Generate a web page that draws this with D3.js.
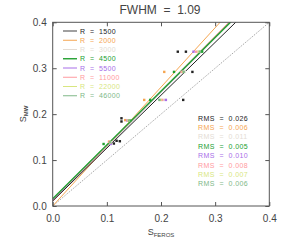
<!DOCTYPE html>
<html>
<head>
<meta charset="utf-8">
<script src="https://cdn.jsdelivr.net/npm/d3@7"></script>
<style>
  body { margin: 0; background: #fff; }
  text { font-family: "Liberation Sans", "DejaVu Sans", sans-serif; white-space: pre; }
</style>
</head>
<body>
<div id="chart"></div>
<script>
// resolutions, colours and fit lines (intercept, slope)
let resolutions = [1500, 2000, 3000, 4500, 5500, 11000, 22000, 46000];
let colors = ["#222222", "#f5a550", "#e4dcd4", "#22a030", "#a86ee8", "#ff9aa0", "#d8e680", "#80b888"];
let legendLineColors = ["#777777", "#f5a550", "#e4dcd4", "#22a030", "#a86ee8", "#ff9aa0", "#d8e680", "#80b888"];
let intercepts = [0.011, 0.000, 0.010, 0.016, 0.012, 0.010, 0.014, 0.015];
let slopes = [1.151, 1.294, 1.185, 1.170, 1.180, 1.200, 1.180, 1.175];
let rmsValues = ["0.026", "0.006", "0.011", "0.005", "0.010", "0.008", "0.007", "0.006"];

// points per resolution: [S_FEROS, S_MW]
let pts1500 = [[0.231,0.336],[0.246,0.336],[0.258,0.292],[0.241,0.231],[0.127,0.191],[0.127,0.184],[0.113,0.136],[0.118,0.142],[0.124,0.141]];
let pts2000 = [[0.206,0.292],[0.169,0.231],[0.134,0.187],[0.104,0.140]];
let pts3000 = [[0.268,0.336],[0.244,0.292],[0.205,0.231],[0.140,0.186],[0.108,0.139]];
let pts4500 = [[0.276,0.336],[0.224,0.292],[0.180,0.231],[0.143,0.186],[0.094,0.135]];
let pts5500 = [[0.260,0.336],[0.240,0.292],[0.209,0.231],[0.138,0.186],[0.107,0.135]];
let pts11000 = [[0.265,0.336],[0.238,0.292],[0.202,0.231],[0.139,0.186],[0.105,0.140]];
let pts22000 = [[0.270,0.336],[0.241,0.292],[0.199,0.231],[0.140,0.186],[0.106,0.138]];
let pts46000 = [[0.272,0.336],[0.242,0.292],[0.197,0.231],[0.141,0.186],[0.106,0.139]];
let points = [pts1500, pts2000, pts3000, pts4500, pts5500, pts11000, pts22000, pts46000];

let tickValues = [0.0, 0.1, 0.2, 0.3, 0.4];

let width = 285, height = 245;
let margin = {left: 52.7, right: 15.7, top: 22.3, bottom: 39};

let svg = d3.select("#chart").append("svg")
    .attr("width", width)
    .attr("height", height);

let x = d3.scaleLinear().domain([0, 0.4]).range([margin.left, width - margin.right]);
let y = d3.scaleLinear().domain([0, 0.4]).range([height - margin.bottom, margin.top]);

svg.append("clipPath").attr("id", "clip")
    .append("rect")
    .attr("x", x(0)).attr("y", y(0.4))
    .attr("width", x(0.4) - x(0)).attr("height", y(0) - y(0.4));

let plot = svg.append("g").attr("clip-path", "url(#clip)");

// 1:1 line
plot.append("line")
    .attr("x1", x(0)).attr("y1", y(0))
    .attr("x2", x(0.4)).attr("y2", y(0.4))
    .attr("stroke", "#777")
    .attr("stroke-width", 0.7)
    .attr("stroke-dasharray", "1.2,1.2");

// fit lines, black last so it sits on top of the right edge
let order = [1, 2, 4, 5, 6, 7, 3, 0];
order.forEach(function(i) {
    plot.append("line")
        .attr("x1", x(0)).attr("y1", y(intercepts[i]))
        .attr("x2", x(0.4)).attr("y2", y(intercepts[i] + slopes[i] * 0.4))
        .attr("stroke", colors[i])
        .attr("stroke-width", i == 3 || i == 7 ? 1.3 : 1);
});

// points
points.forEach(function(p, i) {
    plot.selectAll(null).data(p).enter()
        .append("rect")
        .attr("x", function(d) { return x(d[0]) - 1.2; })
        .attr("y", function(d) { return y(d[1]) - 1.2; })
        .attr("width", 2.4)
        .attr("height", 2.4)
        .attr("fill", colors[i]);
});

// axes box with inward ticks
let axisColor = "#555";
svg.append("rect")
    .attr("x", x(0)).attr("y", y(0.4))
    .attr("width", x(0.4) - x(0)).attr("height", y(0) - y(0.4))
    .attr("fill", "none").attr("stroke", axisColor).attr("stroke-width", 1);

let tickLen = 4;
let bottomAxis = svg.append("g").attr("transform", `translate(0, ${y(0)})`)
    .call(d3.axisBottom(x).tickValues(tickValues).tickSizeInner(-tickLen).tickSizeOuter(0).tickPadding(9).tickFormat(d3.format(".1f")));
let topAxis = svg.append("g").attr("transform", `translate(0, ${y(0.4)})`)
    .call(d3.axisTop(x).tickValues(tickValues).tickSizeInner(-tickLen).tickSizeOuter(0).tickFormat(""));
let leftAxis = svg.append("g").attr("transform", `translate(${x(0)}, 0)`)
    .call(d3.axisLeft(y).tickValues(tickValues).tickSizeInner(-tickLen).tickSizeOuter(0).tickPadding(6).tickFormat(d3.format(".1f")));
let rightAxis = svg.append("g").attr("transform", `translate(${x(0.4)}, 0)`)
    .call(d3.axisRight(y).tickValues(tickValues).tickSizeInner(-tickLen).tickSizeOuter(0).tickFormat(""));

[bottomAxis, topAxis, leftAxis, rightAxis].forEach(function(a) {
    a.select(".domain").remove();
    a.selectAll("line").attr("stroke", axisColor);
    a.selectAll("text").attr("fill", "#444").style("font-size", "10px");
});

// title
svg.append("text")
    .attr("x", 160).attr("y", 14)
    .attr("text-anchor", "middle")
    .attr("fill", "#444")
    .style("font-size", "12px")
    .text("FWHM  =  1.09");

// axis labels
let xl = svg.append("text")
    .attr("x", 161).attr("y", 235)
    .attr("text-anchor", "middle")
    .attr("fill", "#444")
    .style("font-size", "9px");
xl.append("tspan").text("S");
xl.append("tspan").attr("dy", 2).style("font-size", "6px").text("FEROS");

let yl = svg.append("text")
    .attr("transform", "translate(26, 114) rotate(-90)")
    .attr("text-anchor", "middle")
    .attr("fill", "#444")
    .style("font-size", "9px");
yl.append("tspan").text("S");
yl.append("tspan").attr("dy", 2).style("font-size", "6px").style("font-weight", "bold").text("MW");

// legend
let legend = svg.append("g");
resolutions.forEach(function(r, i) {
    let ly = 31 + i * 9.25;
    legend.append("line")
        .attr("x1", 63).attr("x2", 77)
        .attr("y1", ly).attr("y2", ly)
        .attr("stroke", legendLineColors[i])
        .attr("stroke-width", i == 0 || i == 3 ? 1.4 : 1);
    legend.append("text")
        .attr("x", 80).attr("y", ly + 2.5)
        .attr("fill", colors[i])
        .style("font-size", "7px")
        .style("letter-spacing", "0.35px")
        .text("R  =  " + r);
});

// rms labels
resolutions.forEach(function(r, i) {
    svg.append("text")
        .attr("x", 198).attr("y", 120.5 + i * 9.4)
        .attr("fill", colors[i])
        .style("font-size", "7px")
        .style("letter-spacing", "0.4px")
        .text("RMS  =  " + rmsValues[i]);
});
</script>
</body>
</html>
